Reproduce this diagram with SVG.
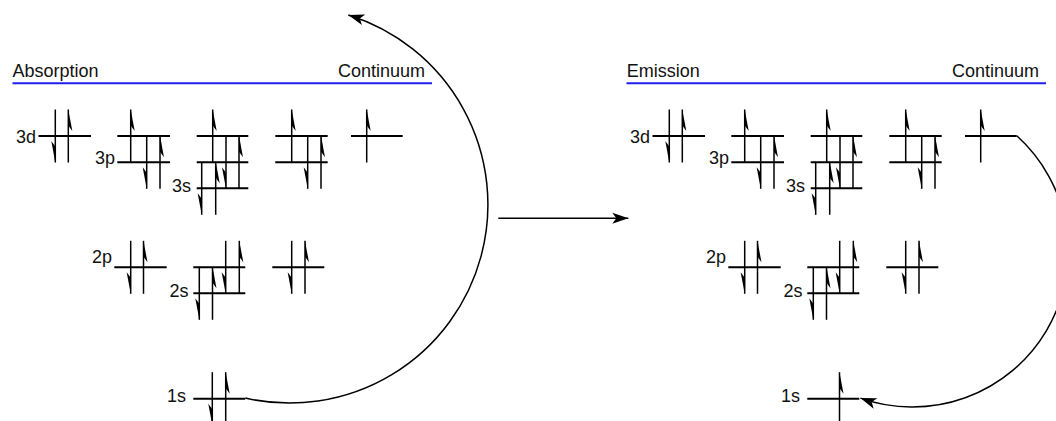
<svg xmlns="http://www.w3.org/2000/svg" width="1056" height="421" viewBox="0 0 1056 421">
<style>
.lvl{stroke:#000;stroke-width:2;fill:none}
.spin{stroke:#000;stroke-width:1.5}
.barb{fill:#000;stroke:none}
.lab{font-family:"Liberation Sans",Arial,sans-serif;font-size:18px;fill:#111}
.end{text-anchor:end}
.band{stroke:#1f1ff0;stroke-width:2}
.conn{stroke:#000;stroke-width:1.5;fill:none}
</style>
<defs>
<g id="spin-up"><line class="spin" x1="0" y1="-26.5" x2="0" y2="26.5"/><path class="barb" d="M0,-26.5 L4,-5 L0,-10.5 Z"/></g>
<g id="spin-down"><line class="spin" x1="0" y1="-26.5" x2="0" y2="26.5"/><path class="barb" d="M0,26.5 L-4,5 L0,10.5 Z"/></g>
<marker id="head" markerWidth="20" markerHeight="14" refX="17" refY="7" orient="auto" markerUnits="userSpaceOnUse" viewBox="0 0 20 14">
<path d="M17,7 L1,1.5 L5,7 L1,12.5 Z" fill="#000"/>
</marker>
</defs>

<g id="absorption">
<g id="abs-header">
<text class="lab" x="12.5" y="77">Absorption</text>
<text class="lab end" x="425" y="77">Continuum</text>
<line class="band" x1="12.5" y1="83.3" x2="432" y2="83.3"/>
</g>
<g id="abs-3d">
<text class="lab end" x="36" y="142.5">3d</text>
<line class="lvl" x1="38.5" y1="136" x2="91" y2="136"/>
<use href="#spin-down" x="55.3" y="136"/>
<use href="#spin-up" x="68.3" y="136"/>
</g>
<g id="abs-3p">
<text class="lab end" x="115" y="164">3p</text>
<line class="lvl" x1="117.3" y1="136" x2="170" y2="136"/>
<line class="lvl" x1="117.3" y1="162.3" x2="170" y2="162.3"/>
<use href="#spin-up" x="130.7" y="136"/>
<use href="#spin-down" x="146.7" y="162.3"/>
<use href="#spin-up" x="160" y="162.3"/>
</g>
<g id="abs-3s">
<text class="lab end" x="191" y="192">3s</text>
<line class="lvl" x1="196.7" y1="136" x2="248.3" y2="136"/>
<line class="lvl" x1="196.7" y1="162.3" x2="248.3" y2="162.3"/>
<line class="lvl" x1="196.7" y1="188.3" x2="248.3" y2="188.3"/>
<use href="#spin-up" x="212.7" y="136"/>
<use href="#spin-down" x="226" y="162.3"/>
<use href="#spin-up" x="239" y="162.3"/>
<use href="#spin-down" x="201.7" y="188.3"/>
<use href="#spin-up" x="215.7" y="188.3"/>
</g>
<g id="abs-3-4">
<line class="lvl" x1="275.3" y1="136" x2="327.7" y2="136"/>
<line class="lvl" x1="275.3" y1="162.3" x2="327.7" y2="162.3"/>
<use href="#spin-up" x="291.7" y="136"/>
<use href="#spin-down" x="307.7" y="162.3"/>
<use href="#spin-up" x="321" y="162.3"/>
</g>
<g id="abs-3-5">
<line class="lvl" x1="351" y1="136" x2="402.7" y2="136"/>
<use href="#spin-up" x="366.7" y="136"/>
</g>
<g id="abs-2p">
<text class="lab end" x="112" y="263">2p</text>
<line class="lvl" x1="114.3" y1="267.3" x2="166.7" y2="267.3"/>
<use href="#spin-down" x="130.7" y="267.3"/>
<use href="#spin-up" x="143.5" y="267.3"/>
</g>
<g id="abs-2s">
<text class="lab end" x="188.5" y="297">2s</text>
<line class="lvl" x1="193.3" y1="267.3" x2="245.3" y2="267.3"/>
<line class="lvl" x1="193.3" y1="293.3" x2="245.3" y2="293.3"/>
<use href="#spin-down" x="199.3" y="293.3"/>
<use href="#spin-up" x="212.5" y="293.3"/>
<use href="#spin-down" x="225.7" y="267.3"/>
<use href="#spin-up" x="239.3" y="267.3"/>
</g>
<g id="abs-2-3">
<line class="lvl" x1="272.3" y1="267.3" x2="324.3" y2="267.3"/>
<use href="#spin-down" x="291.7" y="267.3"/>
<use href="#spin-up" x="305" y="267.3"/>
</g>
<g id="abs-1s">
<text class="lab end" x="186" y="402">1s</text>
<line class="lvl" x1="193.3" y1="398.7" x2="245.3" y2="398.7"/>
<use href="#spin-down" x="212.3" y="398.7"/>
<use href="#spin-up" x="225.7" y="398.7"/>
</g>
</g>

<g id="emission" transform="translate(614,0)">
<g id="em-header">
<text class="lab" x="12.8" y="77">Emission</text>
<text class="lab end" x="425" y="77">Continuum</text>
<line class="band" x1="12.5" y1="83.3" x2="432" y2="83.3"/>
</g>
<g id="em-3d">
<text class="lab end" x="36" y="142.5">3d</text>
<line class="lvl" x1="38.5" y1="136" x2="91" y2="136"/>
<use href="#spin-down" x="55.3" y="136"/>
<use href="#spin-up" x="68.3" y="136"/>
</g>
<g id="em-3p">
<text class="lab end" x="115" y="164">3p</text>
<line class="lvl" x1="117.3" y1="136" x2="170" y2="136"/>
<line class="lvl" x1="117.3" y1="162.3" x2="170" y2="162.3"/>
<use href="#spin-up" x="130.7" y="136"/>
<use href="#spin-down" x="146.7" y="162.3"/>
<use href="#spin-up" x="160" y="162.3"/>
</g>
<g id="em-3s">
<text class="lab end" x="191" y="192">3s</text>
<line class="lvl" x1="196.7" y1="136" x2="248.3" y2="136"/>
<line class="lvl" x1="196.7" y1="162.3" x2="248.3" y2="162.3"/>
<line class="lvl" x1="196.7" y1="188.3" x2="248.3" y2="188.3"/>
<use href="#spin-up" x="212.7" y="136"/>
<use href="#spin-down" x="226" y="162.3"/>
<use href="#spin-up" x="239" y="162.3"/>
<use href="#spin-down" x="201.7" y="188.3"/>
<use href="#spin-up" x="215.7" y="188.3"/>
</g>
<g id="em-3-4">
<line class="lvl" x1="275.3" y1="136" x2="327.7" y2="136"/>
<line class="lvl" x1="275.3" y1="162.3" x2="327.7" y2="162.3"/>
<use href="#spin-up" x="291.7" y="136"/>
<use href="#spin-down" x="307.7" y="162.3"/>
<use href="#spin-up" x="321" y="162.3"/>
</g>
<g id="em-3-5">
<line class="lvl" x1="351" y1="136" x2="402.7" y2="136"/>
<use href="#spin-up" x="366.7" y="136"/>
</g>
<g id="em-2p">
<text class="lab end" x="112" y="263">2p</text>
<line class="lvl" x1="114.3" y1="267.3" x2="166.7" y2="267.3"/>
<use href="#spin-down" x="130.7" y="267.3"/>
<use href="#spin-up" x="143.5" y="267.3"/>
</g>
<g id="em-2s">
<text class="lab end" x="188.5" y="297">2s</text>
<line class="lvl" x1="193.3" y1="267.3" x2="245.3" y2="267.3"/>
<line class="lvl" x1="193.3" y1="293.3" x2="245.3" y2="293.3"/>
<use href="#spin-down" x="199.3" y="293.3"/>
<use href="#spin-up" x="212.5" y="293.3"/>
<use href="#spin-down" x="225.7" y="267.3"/>
<use href="#spin-up" x="239.3" y="267.3"/>
</g>
<g id="em-2-3">
<line class="lvl" x1="272.3" y1="267.3" x2="324.3" y2="267.3"/>
<use href="#spin-down" x="291.7" y="267.3"/>
<use href="#spin-up" x="305" y="267.3"/>
</g>
<g id="em-1s">
<text class="lab end" x="186" y="402">1s</text>
<line class="lvl" x1="193.3" y1="398.7" x2="245.3" y2="398.7"/>
<use href="#spin-up" x="225.5" y="398.7"/>
</g>
</g>

<g id="connectors">
<path class="conn" d="M245.3,398.1 A198.5,198.5 0 0 0 348.3,15" marker-end="url(#head)"/>
<path class="conn" d="M498.3,218.3 L628.3,218.3" marker-end="url(#head)"/>
<path class="conn" d="M1016.8,135.8 A155.7,155.7 0 0 1 860.4,398.1" marker-end="url(#head)"/>
</g>
</svg>
